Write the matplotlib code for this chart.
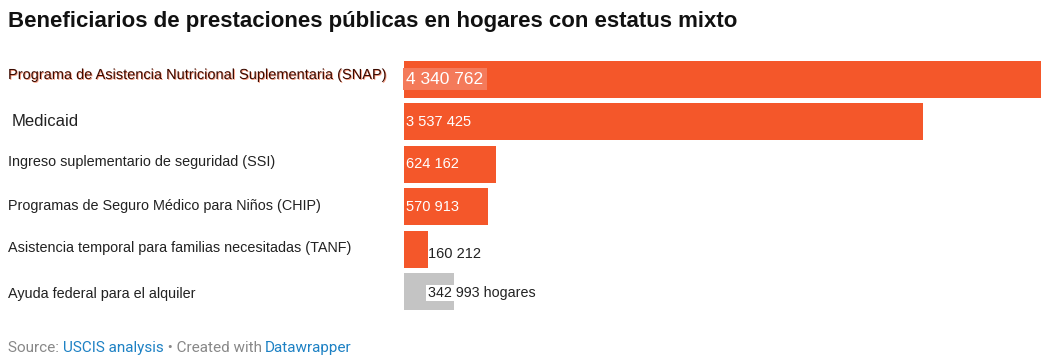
import numpy as np
import matplotlib.pyplot as plt
import matplotlib.transforms as mtransforms
import matplotlib.patheffects as pe

plt.rcParams['font.family'] = ['Liberation Sans', 'DejaVu Sans']

# datos
programas = [
    "Programa de Asistencia Nutricional Suplementaria (SNAP)",
    "Medicaid",
    "Ingreso suplementario de seguridad (SSI)",
    "Programas de Seguro Médico para Niños (CHIP)",
    "Asistencia temporal para familias necesitadas (TANF)",
    "Ayuda federal para el alquiler",
]
beneficiarios = [4340762, 3537425, 624162, 570913, 160212, 342993]
etiquetas = ["4 340 762", "3 537 425", "624 162", "570 913", "160 212", "342 993 hogares"]

naranja = "#f4572a"
gris = "#c4c4c4"
colores = [naranja] * 5 + [gris]

W, H = 1051, 362
fig = plt.figure(figsize=(W / 100, H / 100), dpi=100)
ax = fig.add_axes([404 / W, 1 - 313 / H, (1041 - 404) / W, 255 / H])

y = np.arange(len(programas))
ax.barh(y, beneficiarios, height=0.86, color=colores)
ax.set_xlim(0, max(beneficiarios))
ax.set_ylim(len(programas) - 0.5, -0.5)
ax.axis("off")

# etiquetas de categoria (x en figura, y en datos)
trans = mtransforms.blended_transform_factory(fig.transFigure, ax.transData)
desplaz = [-0.1, 0, -0.05, -0.02, -0.03, 0.05]
for i, nombre in enumerate(programas):
    if i == 0:
        ax.text(8 / W, i + desplaz[i], nombre, transform=trans, va="center", ha="left",
                fontsize=10.5, color="#3a0a00",
                path_effects=[pe.withSimplePatchShadow(offset=(0.6, -0.6), shadow_rgbFace="#f4572a", alpha=0.6)])
    elif i == 1:
        ax.text(12 / W, i + desplaz[i], nombre, transform=trans, va="center", ha="left",
                fontsize=12, color="#222222")
    else:
        ax.text(8 / W, i + desplaz[i], nombre, transform=trans, va="center", ha="left",
                fontsize=10.4, color="#222222")

# etiquetas de valores
px = mtransforms.offset_copy(ax.transData, fig=fig, x=2, y=0, units="dots")
for i, (v, lab) in enumerate(zip(beneficiarios, etiquetas)):
    if i == 0:
        ax.text(0, i, lab, transform=px, va="center", ha="left", fontsize=12.5,
                color="white",
                bbox=dict(boxstyle="square,pad=0.2", fc="#f47a5a", ec="none"))
    elif i < 4:
        ax.text(0, i, lab, transform=px, va="center", ha="left", fontsize=10.5,
                color="white")
    elif i == 4:
        ax.text(v, i + 0.12, lab, transform=ax.transData, va="center", ha="left",
                fontsize=10.5, color="#222222")
    else:
        ax.text(beneficiarios[4], i + 0.03, lab, transform=ax.transData, va="center", ha="left",
                fontsize=10.3, color="#222222",
                bbox=dict(boxstyle="square,pad=0.1", fc="white", ec="none"))

# titulo
fig.text(8 / W, 1 - 22 / H, "Beneficiarios de prestaciones públicas en hogares con estatus mixto",
         fontsize=16, fontweight="bold", color="#111111", va="center", ha="left")

# pie
gris_txt = "#888888"
azul = "#1d81c4"
partes = [("Source: ", gris_txt), ("USCIS analysis", azul),
          (" • Created with ", gris_txt), ("Datawrapper", azul)]
x0 = 8
renderer = fig.canvas.get_renderer()
for txt, col in partes:
    t = fig.text(x0 / W, 1 - 348 / H, txt, fontsize=11, color=col, va="center", ha="left",
                 family=["Roboto", "DejaVu Sans"])
    bb = t.get_window_extent(renderer=renderer)
    x0 += bb.width

fig.savefig("out.png", dpi=100)
